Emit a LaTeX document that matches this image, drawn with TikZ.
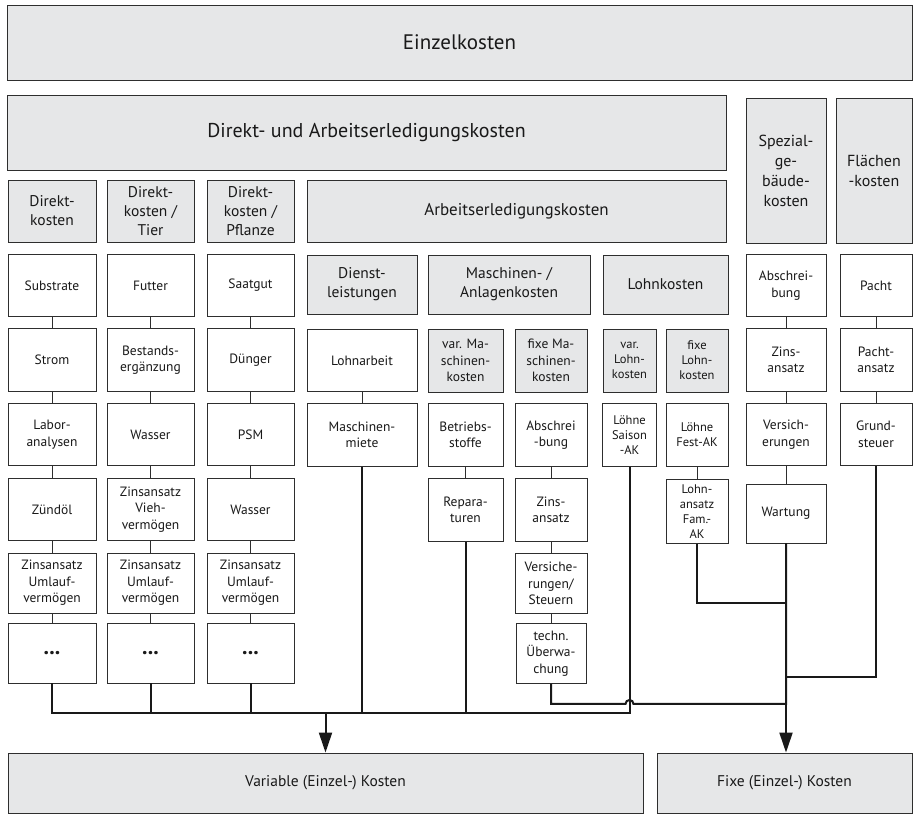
\documentclass[tikz,border=0pt]{standalone}
\usepackage{fontspec}
\setmainfont{PT Sans}
\usetikzlibrary{shapes, arrows.meta, positioning, calc}
\definecolor{boxgray}{HTML}{E6E7E8}
\definecolor{linegray}{HTML}{2E2E2E}

\begin{document}
\begin{tikzpicture}[x=1pt, y=-1pt, node distance=74.5pt, >={Triangle[length=20pt,width=13pt]}]
        % Define block styles
        \tikzstyle{head} = [draw=linegray, line width=0.9pt, fill=boxgray, rectangle, align=center, inner sep=1pt, text=black!90, font=\fontsize{15.5}{19}\selectfont]
        \tikzstyle{subhead} = [head, minimum height=63pt, font=\fontsize{13.5}{16.5}\selectfont]
        \tikzstyle{block} = [draw=linegray, line width=0.9pt, fill=white, rectangle, align=center, inner sep=1pt, minimum height=62.5pt, text=black!90, font=\fontsize{13.5}{16.5}\selectfont]
        \tikzstyle{tiny} = [font=\fontsize{12.5}{15}\selectfont]
        \tikzstyle{link} = [draw=linegray, line width=0.8pt]
        \tikzstyle{bus} = [draw=black!90, line width=2pt]
        \newcommand{\etc}{\textbf{\fontsize{22}{22}\selectfont ...}}

        \useasboundingbox (0,0) rectangle (914,815);

        % Headers
        \node [head, minimum width=905pt, minimum height=75pt, font=\fontsize{21}{25}\selectfont] (einzel) at (459.5,42.5) {Einzelkosten};
        \node [head, minimum width=719pt, minimum height=75pt, font=\fontsize{20}{24}\selectfont] (dak) at (366.5,132.5) {Direkt- und Arbeitserledigungskosten};
        \node [head, minimum width=80pt, minimum height=145pt, font=\fontsize{16}{20}\selectfont] (spez) at (786,170.5) {Spezial-\\ge-\\bäude-\\kosten};
        \node [head, minimum width=76pt, minimum height=145pt, font=\fontsize{16}{20}\selectfont] (flaeche) at (874,170.5) {Flächen\\-kosten};
        \node [head, minimum width=88pt, minimum height=62pt] (dk) at (52,211) {Direkt-\\kosten};
        \node [head, minimum width=87pt, minimum height=62pt] (dktier) at (150.5,211) {Direkt-\\kosten /\\Tier};
        \node [head, minimum width=87pt, minimum height=62pt] (dkpfl) at (250.5,211) {Direkt-\\kosten /\\Pflanze};
        \node [head, minimum width=419pt, minimum height=62pt, font=\fontsize{17}{20}\selectfont] (aek) at (516.5,211) {Arbeitserledigungskosten};
        \node [head, minimum width=110pt, minimum height=59pt] (dienst) at (362,284.5) {Dienst-\\leistungen};
        \node [head, minimum width=162pt, minimum height=59pt] (masch) at (509,284.5) {Maschinen- /\\Anlagenkosten};
        \node [head, minimum width=125pt, minimum height=59pt] (lohn) at (665.5,284.5) {Lohnkosten};

        % Direktkosten
        \node [block, minimum width=88pt] (substrate) at (52,285.5) {Substrate};
        \node [block, minimum width=88pt, below of=substrate] (strom) {Strom};
        \node [block, minimum width=88pt, below of=strom] (labor) {Labor-\\analysen};
        \node [block, minimum width=88pt, below of=labor, node distance=75pt] (zuendoel) {Zündöl};
        \node [block, minimum width=88pt, minimum height=60pt, below of=zuendoel, node distance=73.5pt] (zinsa) {Zinsansatz\\Umlauf-\\vermögen};
        \node [block, minimum width=88pt, minimum height=60pt, below of=zinsa, node distance=70pt] (etca) {\etc};

        % Direktkosten / Tier
        \node [block, minimum width=87pt] (futter) at (150.5,285.5) {Futter};
        \node [block, minimum width=87pt, below of=futter] (bestand) {Bestands-\\ergänzung};
        \node [block, minimum width=87pt, below of=bestand] (wassert) {Wasser};
        \node [block, minimum width=87pt, below of=wassert, node distance=75pt] (vieh) {Zinsansatz\\Vieh-\\vermögen};
        \node [block, minimum width=87pt, minimum height=60pt, below of=vieh, node distance=73.5pt] (zinsb) {Zinsansatz\\Umlauf-\\vermögen};
        \node [block, minimum width=87pt, minimum height=60pt, below of=zinsb, node distance=70pt] (etcb) {\etc};

        % Direktkosten / Pflanze
        \node [block, minimum width=87pt] (saatgut) at (250.5,285.5) {Saatgut};
        \node [block, minimum width=87pt, below of=saatgut] (duenger) {Dünger};
        \node [block, minimum width=87pt, below of=duenger] (psm) {PSM};
        \node [block, minimum width=87pt, below of=psm, node distance=75pt] (wasserp) {Wasser};
        \node [block, minimum width=87pt, minimum height=60pt, below of=wasserp, node distance=73.5pt] (zinsc) {Zinsansatz\\Umlauf-\\vermögen};
        \node [block, minimum width=87pt, minimum height=60pt, below of=zinsc, node distance=70pt] (etcc) {\etc};

        % Dienstleistungen
        \node [block, minimum width=110pt] (lohnarbeit) at (362,360.5) {Lohnarbeit};
        \node [block, minimum width=110pt, below of=lohnarbeit] (miete) {Maschinen-\\miete};

        % Maschinen- / Anlagenkosten
        \node [subhead, minimum width=75pt] (varmasch) at (465.5,360.5) {var. Ma-\\schinen-\\kosten};
        \node [block, minimum width=75pt, below of=varmasch] (betrieb) {Betriebs-\\stoffe};
        \node [block, minimum width=75pt, below of=betrieb, node distance=75pt] (repar) {Repara-\\turen};
        \node [subhead, minimum width=72pt] (fixmasch) at (551,360.5) {fixe Ma-\\schinen-\\kosten};
        \node [block, minimum width=72pt, below of=fixmasch] (abschr) {Abschrei\\-bung};
        \node [block, minimum width=72pt, below of=abschr, node distance=75pt] (zinsm) {Zins-\\ansatz};
        \node [block, minimum width=72pt, minimum height=60pt, below of=zinsm, node distance=73.5pt] (versm) {Versiche-\\rungen/\\Steuern};
        \node [block, minimum width=70pt, minimum height=60pt, below of=versm, node distance=70pt] (techn) {techn.\\Überwa-\\chung};

        % Lohnkosten
        \node [subhead, tiny, minimum width=53pt] (varlohn) at (629.5,360.5) {var.\\Lohn-\\kosten};
        \node [block, tiny, minimum width=54pt, below of=varlohn] (saison) {Löhne\\Saison\\-AK};
        \node [subhead, tiny, minimum width=62pt] (fixlohn) at (697,360.5) {fixe\\Lohn-\\kosten};
        \node [block, tiny, minimum width=62pt, below of=fixlohn] (festak) {Löhne\\Fest-AK};
        \node [block, tiny, minimum width=62pt, minimum height=64pt, below of=festak, node distance=76.5pt] (famak) {Lohn-\\ansatz\\Fam.-\\AK};

        % Spezialgebaeudekosten
        \node [block, minimum width=80pt] (abschrsp) at (786,285.5) {Abschrei-\\bung};
        \node [block, minimum width=80pt, below of=abschrsp] (zinssp) {Zins-\\ansatz};
        \node [block, minimum width=80pt, below of=zinssp] (verssp) {Versich-\\erungen};
        \node [block, minimum width=80pt, minimum height=59pt, below of=verssp, node distance=79pt] (wartung) {Wartung};

        % Flaechenkosten
        \node [block, minimum width=72pt] (pacht) at (876,285.5) {Pacht};
        \node [block, minimum width=72pt, below of=pacht] (pachtans) {Pacht-\\ansatz};
        \node [block, minimum width=72pt, below of=pachtans] (grund) {Grund-\\steuer};

        % Targets
        \node [head, minimum width=635pt, minimum height=60pt] (var) at (325.5,783) {Variable (Einzel-) Kosten};
        \node [head, minimum width=255pt, minimum height=60pt] (fix) at (784.5,783) {Fixe (Einzel-) Kosten};
        \coordinate (bus) at (0,713);

        % Edges
        \draw [link] (substrate) -- (strom) -- (labor) -- (zuendoel) -- (zinsa) -- (etca);
        \draw [link] (futter) -- (bestand) -- (wassert) -- (vieh) -- (zinsb) -- (etcb);
        \draw [link] (saatgut) -- (duenger) -- (psm) -- (wasserp) -- (zinsc) -- (etcc);
        \draw [link] (lohnarbeit) -- (miete);
        \draw [link] (betrieb) -- (repar);
        \draw [link] (abschr) -- (zinsm) -- (versm) -- (techn);
        \draw [link] (festak) -- (famak);
        \draw [link] (abschrsp) -- (zinssp) -- (verssp) -- (wartung);
        \draw [link] (pacht) -- (pachtans) -- (grund);

        \draw [bus] (etca) |- (bus -| saison) -- (saison);
        \draw [bus] (etcb) -- (etcb |- bus);
        \draw [bus] (etcc) -- (etcc |- bus);
        \draw [bus] (miete) -- (miete |- bus);
        \draw [bus] (repar) -- (repar |- bus);
        \draw [bus, ->] (var |- bus) -- (var);

        \draw [bus, ->] (wartung) -- (wartung |- fix.north);
        \draw [bus] (famak.south) -- ++(0,59) -| (wartung);
        \draw [bus] (grund.south) -- ++(0,211) -| (wartung);
        \draw [bus] (techn.south) -- ++(0,20) -- ($(saison.south |- techn.south)+(-4,20)$) arc (180:0:4pt) -| (wartung);
    \end{tikzpicture}
\end{document}
